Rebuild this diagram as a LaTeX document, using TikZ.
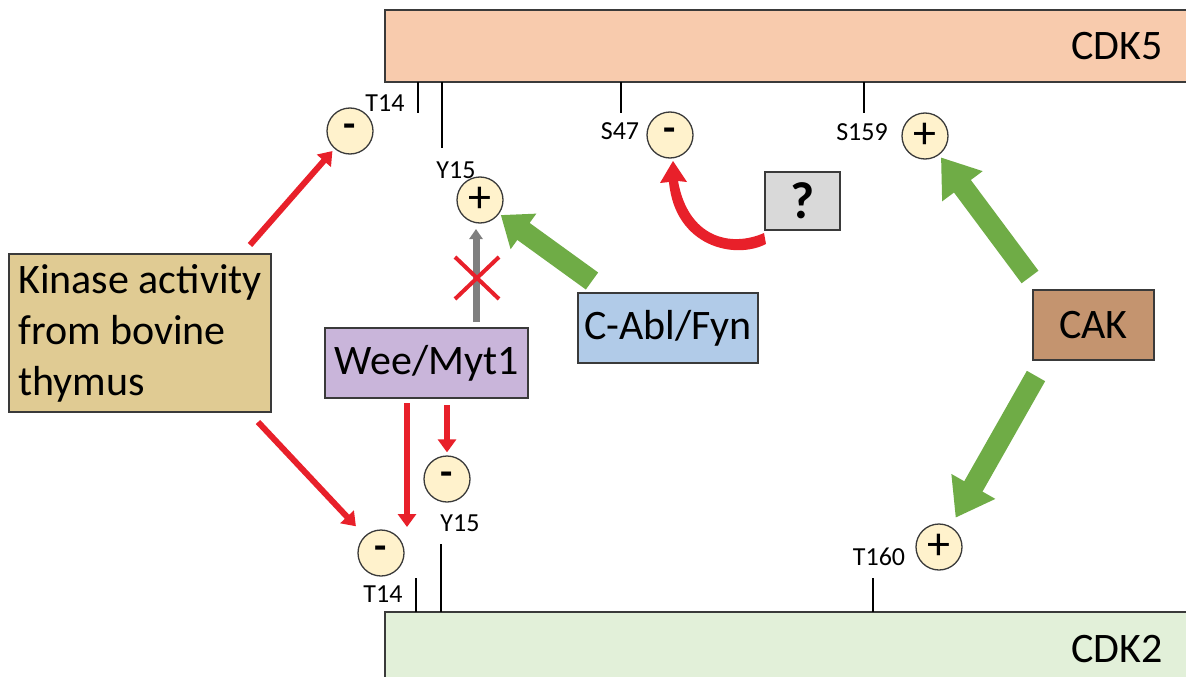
\documentclass[tikz,border=0pt]{standalone}
\usepackage{fontspec}
\setmainfont{Carlito}
\usetikzlibrary{arrows.meta}
\definecolor{cdkfive}{HTML}{F8CBAD}
\definecolor{cdktwo}{HTML}{E2F0D9}
\definecolor{kinfill}{HTML}{E0CB93}
\definecolor{weefill}{HTML}{C9B5DA}
\definecolor{ablfill}{HTML}{B1CBE8}
\definecolor{cakfill}{HTML}{C4946F}
\definecolor{qfill}{HTML}{D9D9D9}
\definecolor{circfill}{HTML}{FFF2CC}
\definecolor{boxline}{HTML}{3A3A3A}
\definecolor{arrred}{HTML}{E8202A}
\definecolor{arrgreen}{HTML}{6FAC46}
\definecolor{arrgray}{HTML}{7F7F7F}
\begin{document}
\begin{tikzpicture}[x=1pt,y=-1pt,
  big/.style={font=\fontsize{42}{51}\selectfont},
  small/.style={font=\fontsize{26}{30}\selectfont},
  box/.style={draw=boxline, line width=1.4pt, inner sep=0pt},
  site/.style={circle, draw=boxline, fill=circfill, line width=1.3pt, minimum size=46pt, inner sep=0pt},
  plussign/.style={site, font=\fontsize{46}{48}\selectfont},
  minussign/.style={site, font=\fontsize{40}{42}\selectfont\bfseries},
  tick/.style={line width=2.6pt, draw=black},
  redarr/.style={draw=arrred, line width=6pt, -{Triangle[length=13pt,width=18pt]}},
  greenarr/.style={draw=arrgreen, line width=21pt, -{Triangle[length=32pt,width=46pt]}},
  grayarr/.style={draw=arrgray, line width=7pt, -{Triangle[length=10pt,width=13pt]}},
  cross/.style={draw=arrred, line width=4pt}
]
\useasboundingbox (0,0) rectangle (1186,677);
\clip (0,0) rectangle (1186,677);

% protein bars
\draw[box, fill=cdkfive] (385,10) rectangle (1200,82);
\node[big, anchor=east] (cdk5) at (1166,46) {CDK5};
\draw[box, fill=cdktwo] (385,612) rectangle (1200,690);
\node[big, anchor=east] (cdk2) at (1166,649) {CDK2};

% ticks
\draw[tick] (418,82) -- (418,113);
\draw[tick] (442,82) -- (442,148);
\draw[tick] (621,82) -- (621,113);
\draw[tick] (864,82) -- (864,113);
\draw[tick] (416,578) -- (416,612);
\draw[tick] (441,544) -- (441,612);
\draw[tick] (873,578) -- (873,612);

% site labels
\node[small] (lt14a) at (385,103) {T14};
\node[small] (ly15a) at (456,170) {Y15};
\node[small] (ls47) at (620,131) {S47};
\node[small] (ls159) at (862,132) {S159};
\node[small] (ly15b) at (460,523) {Y15};
\node[small] (lt14b) at (383,594) {T14};
\node[small] (lt160) at (879,557) {T160};

% site circles
\node[minussign] (m1) at (350,131) {-};
\node[plussign] (p1) at (480,200) {+};
\node[minussign] (m2) at (670,135) {-};
\node[plussign] (p2) at (925,136) {+};
\node[minussign] (m4) at (447,479) {-};
\node[minussign] (m3) at (381,553) {-};
\node[plussign] (p3) at (939,547) {+};

% boxes
\node[box, fill=kinfill, minimum width=262pt, minimum height=158pt, big, align=left] (kin) at (140,333)
  {Kinase activity\\from bovine\\thymus};
\node[box, fill=weefill, minimum width=203pt, minimum height=70pt, big] (wee) at (426.5,363) {Wee/Myt1};
\node[box, fill=ablfill, minimum width=180pt, minimum height=70pt, big] (abl) at (668,328) {C-Abl/Fyn};
\node[box, fill=cakfill, minimum width=121pt, minimum height=70pt, big] (cak) at (1093.5,325) {CAK};
\node[box, fill=qfill, minimum width=75pt, minimum height=58pt, font=\fontsize{52}{56}\selectfont\bfseries] (q) at (802.5,201) {?};

% connector end points
\coordinate (kinup) at (250,245);
\coordinate (kindown) at (258,422);
\coordinate (weeL) at (407,403);
\coordinate (weeLend) at (407,527);
\coordinate (weeR) at (447,405);
\coordinate (weeTop) at (476,322);
\coordinate (grayend) at (476,229);
\coordinate (abltail) at (592,281);
\coordinate (caktop) at (1030,277);
\coordinate (cakbot) at (1036,376);

% red arrows
\draw[redarr, shorten >=3pt] (kinup) -- (m1);
\draw[redarr, shorten >=13pt] (kindown) -- (m3);
\draw[redarr] (weeL) -- (weeLend);
\draw[redarr, shorten >=3pt] (weeR) -- (m4);

% gray blocked arrow
\draw[grayarr] (weeTop) -- (grayend);
\draw[cross] (455,257) -- (499,299);
\draw[cross] (455,299) -- (499,257);

% green arrows
\draw[greenarr, -{Triangle[length=28pt,width=42pt]}, shorten >=2pt] (abltail) -- (p1);
\draw[greenarr, -{Triangle[length=36pt,width=48pt]}, shorten >=3pt] (caktop) -- (p2);
\draw[greenarr, -{Triangle[length=36pt,width=48pt]}, shorten >=10pt] (cakbot) -- (p3);

% curved red arrow from ? to S47
\fill[arrred] (678,181) -- (687,182) -- (673,161) -- (660,183) -- (669,182)
  .. controls (675,247) and (735,260) .. (766,244) -- (764,233)
  .. controls (730,248) and (688,237) .. (678,181) -- cycle;
\end{tikzpicture}
\end{document}
